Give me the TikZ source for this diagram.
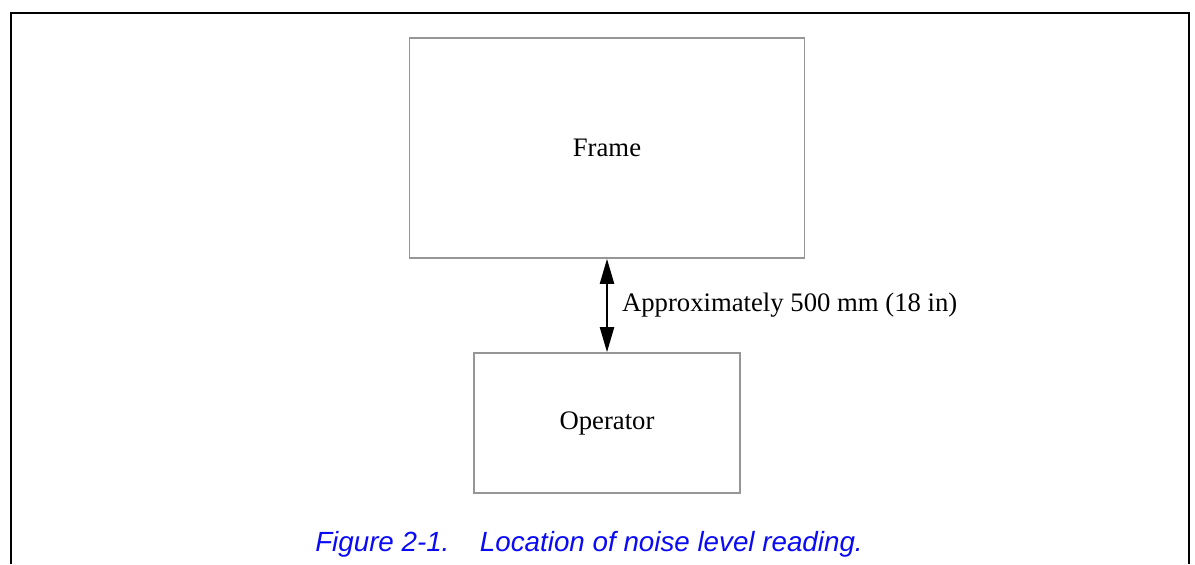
\documentclass[tikz,border=0pt]{standalone}
\usepackage{fontspec}
\setmainfont{Liberation Serif}
\newfontfamily\captionfont{Liberation Sans}
\usetikzlibrary{arrows.meta,positioning,calc}
\definecolor{boxgray}{RGB}{150,150,150}
\definecolor{capblue}{RGB}{10,10,245}

\tikzset{
    blockbox/.style={draw=boxgray, line width=0.9pt, fill=white, font=\fontsize{15.2}{18}\selectfont},
    distarrow/.style={line width=1.2pt, {Triangle[length=0.5cm,width=0.28cm]}-{Triangle[length=0.5cm,width=0.28cm]}}
}

\begin{document}
\begin{tikzpicture}[x=0.02cm, y=-0.02cm]
    \useasboundingbox (0,0) rectangle (1195,564);

    % Outer border, open at the bottom
    \draw[line width=1.1pt] (11,564) -- (11,13) -- (1189,13) -- (1189,564);

    % Boxes
    \node[blockbox, minimum width=7.9cm, minimum height=4.4cm] (frame) at (607,148) {Frame};
    \node[blockbox, minimum width=5.32cm, minimum height=2.8cm] (operator) at (607,423) {Operator};

    % Distance between them
    \draw[distarrow] (frame.south) -- node[right, inner sep=0.28cm, font=\fontsize{15.2}{18}\selectfont] (dist) {Approximately 500 mm (18 in)} (operator.north);

    % Caption
    \node[font=\captionfont\itshape\fontsize{15.8}{18}\selectfont, text=capblue] (caption) at (589,544) {Figure 2-1.\hspace{1.1em}Location of noise level reading.};
\end{tikzpicture}
\end{document}
